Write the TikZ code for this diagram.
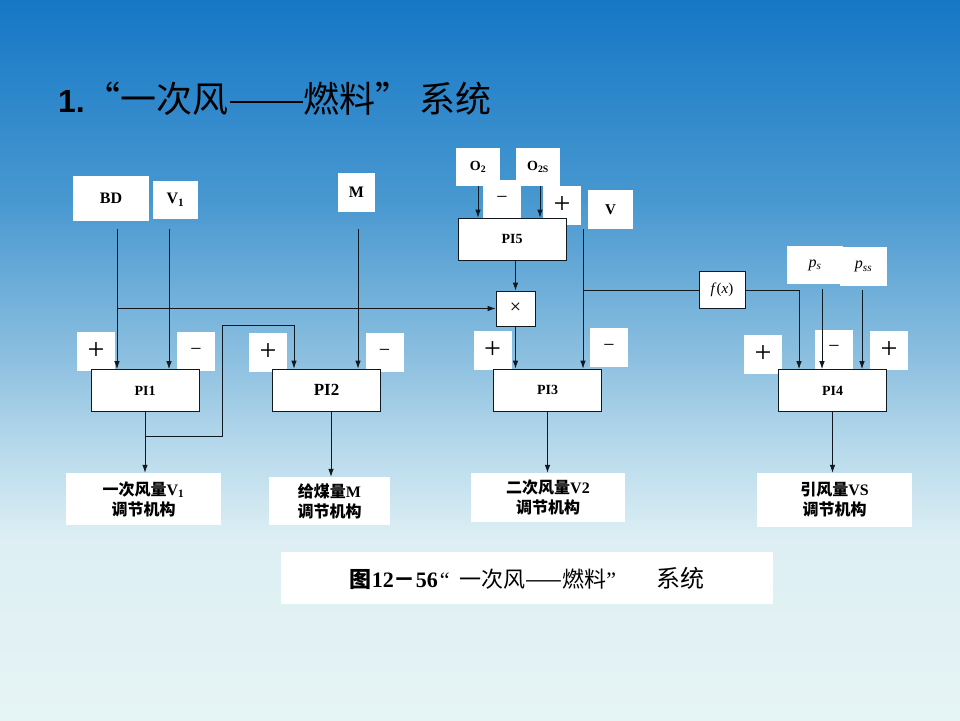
\documentclass[tikz,border=0pt]{standalone}
\usepackage{fontspec}
\setmainfont{Liberation Serif}
\newfontfamily\cjk{Noto Sans CJK SC}
\newfontfamily\titlesans{Liberation Sans}
\usetikzlibrary{arrows.meta,positioning}
\definecolor{slideA}{HTML}{1577C6}
\definecolor{slideB}{HTML}{4898D0}
\definecolor{slideC}{HTML}{8DC0E0}
\definecolor{slideD}{HTML}{B8DAEC}
\definecolor{slideE}{HTML}{DDEFF4}
\definecolor{slideF}{HTML}{E6F4F4}
\definecolor{wireInk}{HTML}{101820}
\pgfdeclareverticalshading{slidebg}{100bp}{color(0bp)=(slideF); color(25bp)=(slideF); color(37.5bp)=(slideE); color(43.75bp)=(slideD); color(50bp)=(slideC); color(61.1bp)=(slideB); color(75bp)=(slideA); color(100bp)=(slideA)}
\newcommand\zh[1]{{\cjk #1}}
\newcommand\plussign{{\fontsize{30}{30}\selectfont +}}
\newcommand\minussign{{\fontsize{20}{20}\selectfont −}}
\tikzset{
  block/.style={
    draw=wireInk,
    line width=0.8pt,
    fill=white,
    minimum width=108pt,
    minimum height=42pt,
    inner sep=0pt,
    font=\bfseries\fontsize{14}{14}\selectfont
  },
  tag/.style={
    fill=white,
    inner sep=0pt,
    font=\bfseries\fontsize{16}{16}\selectfont
  },
  sign/.style={
    fill=white,
    inner sep=0pt,
    minimum width=38pt,
    minimum height=39pt
  },
  actuator/.style={
    fill=white,
    inner sep=0pt,
    align=center,
    font=\bfseries\fontsize{16}{20}\selectfont
  },
  wire/.style={draw=wireInk, line width=0.8pt},
  arrow/.style={wire, -{Latex[length=8pt,width=5.5pt]}}
}

\begin{document}
\begin{tikzpicture}[x=1pt, y=-1pt]
  \shade[shading=slidebg] (0,0) rectangle (960,720);
  \useasboundingbox (0,0) rectangle (960,720);

  \node[anchor=base west, inner sep=0pt] (title) at (58,112)
    {{\titlesans\bfseries\fontsize{32}{32}\selectfont 1.}{\cjk\fontsize{36}{36}\selectfont “一次风\hspace{1pt}\rule[9pt]{73pt}{2.5pt}\hspace{1pt}燃料”\hspace{8pt}系统}};

  % input signals
  \node[tag, minimum width=76pt, minimum height=45pt] (bd) at (111,198.5) {BD};
  \node[tag, minimum width=45pt, minimum height=38pt] (vone) at (175.5,200) {V\textsubscript{1}};
  \node[tag, minimum width=37pt, minimum height=39pt] (coal) at (356.5,192.5) {M};
  \node[tag, minimum width=44pt, minimum height=38pt, font=\bfseries\fontsize{14}{14}\selectfont] (otwo) at (478,167) {O\textsubscript{2}};
  \node[tag, minimum width=44pt, minimum height=38pt, font=\bfseries\fontsize{14}{14}\selectfont] (otwos) at (538,167) {O\textsubscript{2S}};
  \node[tag, minimum width=45pt, minimum height=39pt, font=\bfseries\fontsize{15}{15}\selectfont] (vsec) at (610.5,209.5) {V};
  \node[tag, minimum width=56pt, minimum height=38pt, font=\fontsize{16}{16}\selectfont] (ps) at (815,265) {\textit{p}\textsubscript{\textit{s}}};
  \node[tag, minimum width=47pt, minimum height=39pt, font=\fontsize{16}{16}\selectfont] (pss) at (863.5,266.5) {\textit{p}\textsubscript{\textit{ss}}};

  % signs
  \node[sign] (plusone) at (96,351.5) {\plussign};
  \node[sign] (minusone) at (196,351.5) {\minussign};
  \node[sign] (plustwo) at (268,352.5) {\plussign};
  \node[sign] (minustwo) at (384.5,352.5) {\minussign};
  \node[sign, minimum height=40pt] (minusfive) at (502,200) {\minussign};
  \node[sign] (plusfive) at (562,205.5) {\plussign};
  \node[sign] (plusthree) at (492.5,350.5) {\plussign};
  \node[sign] (minusthree) at (609,347.5) {\minussign};
  \node[sign] (plusfoura) at (763,354) {\plussign};
  \node[sign] (minusfour) at (834,349) {\minussign};
  \node[sign] (plusfourb) at (889,350) {\plussign};

  % controllers
  \node[block] (pione) at (145,390.5) {PI1};
  \node[block, font=\bfseries\fontsize{17}{17}\selectfont] (pitwo) at (326.5,390) {PI2};
  \node[block] (pifive) at (512,239) {PI5};
  \node[block, minimum width=39pt, minimum height=35pt, font=\fontsize{20}{20}\selectfont] (mult) at (515.5,308.5) {×};
  \node[block] (pithree) at (547.5,390) {PI3};
  \node[block, minimum width=46pt, minimum height=37pt, font=\fontsize{15}{15}\selectfont] (fx) at (722,290) {\textit{f}(\textit{x})};
  \node[block] (pifour) at (832.5,390.5) {PI4};

  % actuators
  \node[actuator, minimum width=155pt, minimum height=52pt] (actone) at (143.5,499) {\zh{一次风量}V\textsubscript{1}\\\zh{调节机构}};
  \node[actuator, minimum width=121pt, minimum height=48pt] (acttwo) at (329.5,501) {\zh{给煤量}M\\\zh{调节机构}};
  \node[actuator, minimum width=154pt, minimum height=49pt] (actthree) at (548,497.5) {\zh{二次风量}V2\\\zh{调节机构}};
  \node[actuator, minimum width=155pt, minimum height=54pt] (actfour) at (834.5,500) {\zh{引风量}VS\\\zh{调节机构}};

  \node[fill=white, minimum width=492pt, minimum height=52pt, inner sep=0pt, font=\fontsize{22}{22}\selectfont] (caption) at (527,578)
    {\zh{\bfseries 图}\textbf{12}\zh{\bfseries －}\textbf{56}\hspace{2pt}“\hspace{10pt}\zh{一次风——燃料}”\hspace{40pt}{\fontsize{24}{24}\selectfont\zh{系统}}};

  % connectors
  \draw[arrow] ([xshift=6pt]bd.south |- 0,229) -- ([xshift=6pt]bd.south |- pione.north);
  \draw[arrow] ([xshift=-6.5pt]vone.south |- 0,229) -- ([xshift=-6.5pt]vone.south |- pione.north);
  \draw[arrow] ([xshift=1.5pt]coal.south |- 0,229) -- ([xshift=1.5pt]coal.south |- pitwo.north);
  \draw[arrow] ([xshift=6pt]bd.south |- mult.west) -- (mult.west);
  \draw[arrow] (pione.south) -- (pione.south |- actone.north);
  \draw[arrow] ([yshift=-24pt]pione.south) -- ++(77,0) |- ([xshift=-32.5pt,yshift=43pt]pitwo.north) -- ([xshift=-32.5pt]pitwo.north);
  \draw[arrow] ([xshift=4.5pt]pitwo.south) -- ([xshift=4.5pt]pitwo.south |- acttwo.north);

  \draw[arrow] (otwo.south) -- (otwo.south |- pifive.north);
  \draw[arrow] ([xshift=2pt]otwos.south) -- ([xshift=2pt]otwos.south |- pifive.north);
  \draw[arrow] (pifive.south -| mult.north) -- (mult.north);
  \draw[arrow] (mult.south) -- (mult.south |- pithree.north);
  \draw[arrow] ([xshift=-27.5pt]vsec.south) -- ([xshift=-27.5pt]vsec.south |- pithree.north);
  \draw[wire] ([xshift=-27.5pt]vsec.south |- fx.west) -- (fx.west);
  \draw[arrow] (pithree.south) -- (pithree.south |- actthree.north);

  \draw[arrow] (fx.east) -| ([xshift=-33.5pt]pifour.north);
  \draw[arrow] ([xshift=7pt,yshift=-5pt]ps.south) -- ([xshift=7pt]ps.south |- pifour.north);
  \draw[arrow] ([xshift=-1.5pt,yshift=-4pt]pss.south) -- ([xshift=-1.5pt]pss.south |- pifour.north);
  \draw[arrow] (pifour.south) -- (pifour.south |- actfour.north);
\end{tikzpicture}
\end{document}
